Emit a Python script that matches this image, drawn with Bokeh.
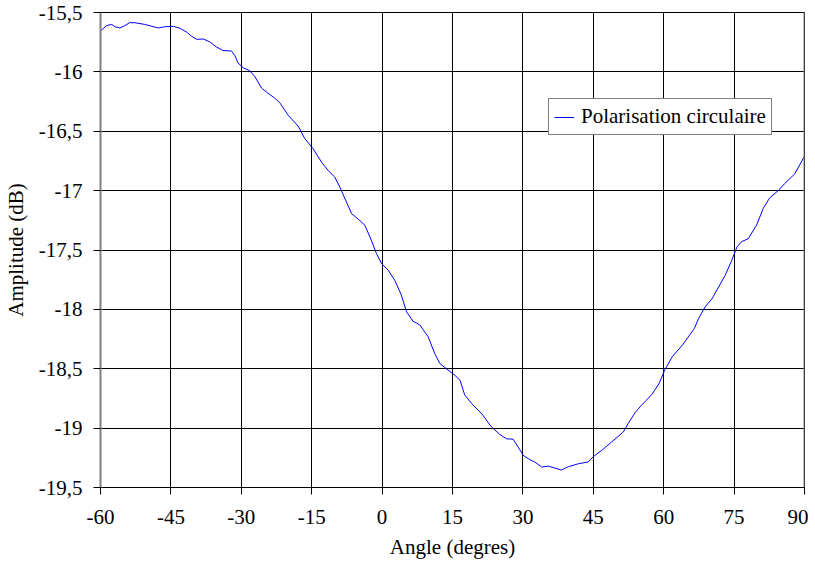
from bokeh.plotting import figure
from bokeh.models import FixedTicker, CustomJSTickFormatter, Span, Legend, LegendItem, Range1d
from bokeh.embed import file_html
from bokeh.resources import INLINE

angles = [-60, -58.7, -57.6, -56.9, -55.9, -54.8, -53.8, -52.7, -50.6, -47.7, -46.3, -44.5,
          -43.1, -41.7, -40.6, -39.5, -38.1, -36.7, -35.3, -33.9, -32.1, -31.4, -30.7, -29.6,
          -28.2, -27.1, -25.7, -24.3, -22.9, -21.8, -20.0, -17.9, -16.5, -14.7, -12.9, -11.5,
          -10.1, -9.0, -7.6, -6.5, -5.1, -3.7, -2.3, -1.2, -0.1, 1.3, 2.7, 4.1, 5.2, 6.6, 8.0,
          9.8, 11.2, 12.3, 13.7, 15.5, 16.6, 17.6, 19.1, 21.2, 23.3, 25.1, 26.5, 27.9, 29.0,
          30.1, 31.5, 32.5, 34.0, 35.4, 36.8, 38.2, 39.7, 41.8, 43.9, 45.0, 46.8, 48.9, 51.4,
          52.4, 53.9, 55.2, 56.3, 57.5, 59.0, 60.2, 61.8, 64.0, 66.5, 67.4, 68.8, 70.3, 73.1,
          74.5, 75.6, 76.6, 78.0, 79.8, 81.2, 82.6, 84.4, 85.8, 87.9, 90.0]
amplitude = [-15.656, -15.61, -15.60, -15.62, -15.63, -15.61, -15.586, -15.586, -15.60, -15.63,
             -15.62, -15.616, -15.633, -15.664, -15.70, -15.726, -15.723, -15.748, -15.79,
             -15.82, -15.824, -15.86, -15.925, -15.965, -15.99, -16.04, -16.136, -16.18, -16.22,
             -16.26, -16.366, -16.456, -16.56, -16.647, -16.76, -16.83, -16.885, -16.97, -17.096,
             -17.194, -17.24, -17.29, -17.417, -17.53, -17.615, -17.67, -17.755, -17.88, -18.02,
             -18.10, -18.13, -18.23, -18.37, -18.456, -18.50, -18.555, -18.597, -18.72, -18.794,
             -18.878, -18.99, -19.054, -19.09, -19.093, -19.16, -19.23, -19.266, -19.285, -19.327,
             -19.32, -19.336, -19.353, -19.325, -19.30, -19.285, -19.24, -19.187, -19.117,
             -19.033, -18.963, -18.87, -18.81, -18.766, -18.715, -18.626, -18.513, -18.40, -18.30,
             -18.163, -18.08, -17.98, -17.91, -17.713, -17.587, -17.475, -17.43, -17.405, -17.29,
             -17.15, -17.06, -17.00, -16.94, -16.86, -16.71]

x_ticks = [-60, -45, -30, -15, 0, 15, 30, 45, 60, 75, 90]
y_ticks = [-19.5, -19, -18.5, -18, -17.5, -17, -16.5, -16, -15.5]
series_name = "Polarisation circulaire"
x_title = "Angle (degres)"
y_title = "Amplitude (dB)"

FONT = "'Liberation Serif', 'DejaVu Serif', serif"

p = figure(width=799, height=553, output_backend="svg", toolbar_location=None,
           x_range=Range1d(-60, 90), y_range=Range1d(-19.5, -15.5),
           min_border_left=91, min_border_right=4, min_border_top=12, min_border_bottom=66)
p.frame_width = 704
p.frame_height = 475
p.background_fill_color = "white"
p.border_fill_color = "white"
p.outline_line_color = "black"
p.outline_line_width = 1

fmt = CustomJSTickFormatter(code="return tick.toString().replace('.', ',');")
for ax, ticks in ((p.xaxis[0], x_ticks), (p.yaxis[0], y_ticks)):
    ax.ticker = FixedTicker(ticks=ticks)
    ax.formatter = fmt
    ax.major_tick_in = 0
    ax.major_tick_out = 7
    ax.minor_tick_out = 0
    ax.minor_tick_in = 0
    ax.major_tick_line_color = "black"
    ax.major_label_text_font = FONT
    ax.major_label_text_font_size = "21px"
    ax.major_label_text_color = "black"
    ax.axis_label_text_font = FONT
    ax.axis_label_text_font_size = "21px"
    ax.axis_label_text_font_style = "normal"
    ax.axis_label_text_color = "black"

p.xaxis.axis_label = x_title
p.yaxis.axis_label = y_title
p.xaxis.axis_line_color = "black"
p.xaxis.axis_line_width = 1
p.yaxis.axis_line_color = "#808080"
p.yaxis.axis_line_width = 2
p.xaxis.major_label_standoff = 15
p.yaxis.major_label_standoff = 11
p.xaxis.axis_label_standoff = 8
p.yaxis.axis_label_standoff = 8

p.xgrid.ticker = FixedTicker(ticks=x_ticks)
p.ygrid.ticker = FixedTicker(ticks=y_ticks)
for g in (p.xgrid[0], p.ygrid[0]):
    g.grid_line_color = "black"
    g.grid_line_width = 1
    g.grid_line_alpha = 1

p.add_layout(Span(location=90, dimension="height", line_color="#808080", line_width=2))

r = p.line(angles, amplitude, line_color="#0000FF", line_width=1)

legend = Legend(items=[LegendItem(label=series_name, renderers=[r])],
                location=(448, 352), border_line_color="black", border_line_width=1,
                background_fill_color="white", background_fill_alpha=1,
                padding=5, margin=0, spacing=0, glyph_width=20, glyph_height=20,
                label_height=20, label_standoff=7,
                label_text_font=FONT, label_text_font_size="21px", label_text_color="black")
p.add_layout(legend)

open("out.html", "w").write(file_html(p, INLINE))
